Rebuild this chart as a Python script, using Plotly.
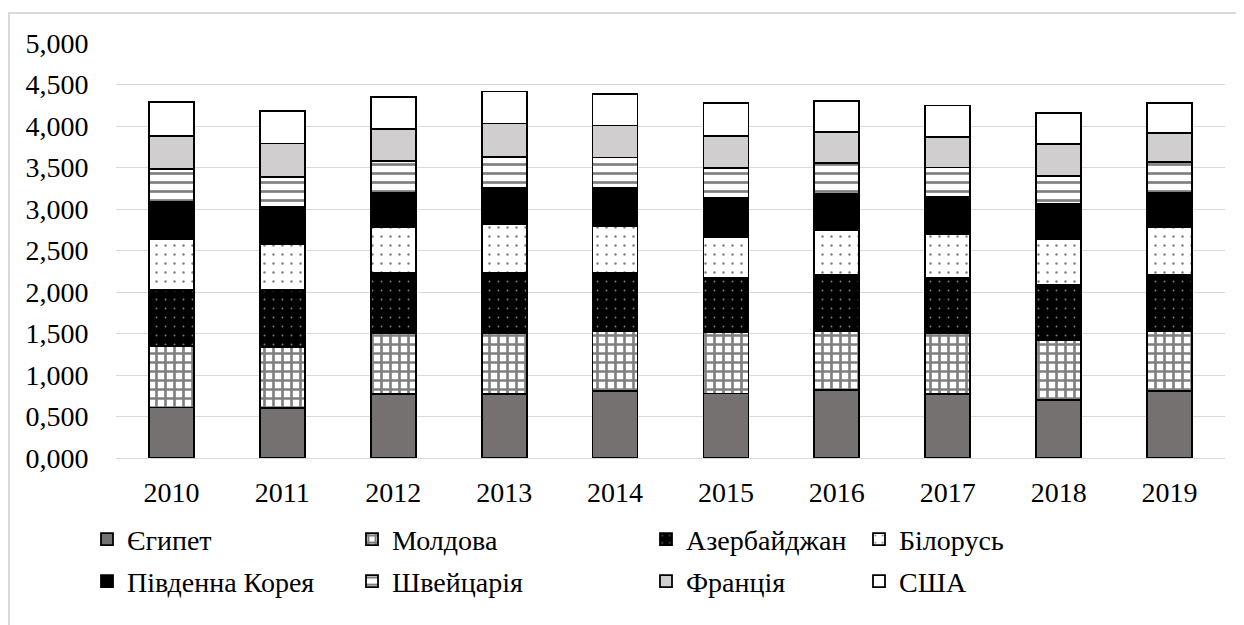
import plotly.graph_objects as go

years = ["2010", "2011", "2012", "2013", "2014", "2015", "2016", "2017", "2018", "2019"]

egypt = [0.608, 0.603, 0.768, 0.768, 0.805, 0.777, 0.817, 0.768, 0.696, 0.808]
moldova = [0.737, 0.736, 0.740, 0.740, 0.725, 0.736, 0.713, 0.732, 0.724, 0.724]
azerbaijan = [0.680, 0.684, 0.724, 0.724, 0.700, 0.651, 0.674, 0.670, 0.663, 0.672]
belarus = [0.612, 0.551, 0.555, 0.588, 0.570, 0.502, 0.543, 0.530, 0.557, 0.583]
south_korea = [0.446, 0.446, 0.413, 0.440, 0.460, 0.464, 0.433, 0.450, 0.420, 0.410]
switzerland = [0.395, 0.370, 0.380, 0.370, 0.360, 0.360, 0.370, 0.350, 0.340, 0.370]
france = [0.399, 0.400, 0.380, 0.400, 0.385, 0.390, 0.380, 0.370, 0.380, 0.353]
usa = [0.413, 0.390, 0.390, 0.385, 0.382, 0.400, 0.370, 0.376, 0.380, 0.360]

names = ["Єгипет", "Молдова", "Азербайджан", "Білорусь",
         "Південна Корея", "Швейцарія", "Франція", "США"]
series = [egypt, moldova, azerbaijan, belarus, south_korea, switzerland, france, usa]

y_ticks = [0, 0.5, 1, 1.5, 2, 2.5, 3, 3.5, 4, 4.5, 5]
y_ticktext = ["0,000", "0,500", "1,000", "1,500", "2,000", "2,500",
              "3,000", "3,500", "4,000", "4,500", "5,000"]

# styles: (bgcolor, pattern shape, fgcolor, size, solidity)
styles = [
    ("#767171", "", "#767171", 8, 0.3),
    ("#FFFFFF", "+", "#000000", 9, 0.5),
    ("#000000", ".", "#FFFFFF", 9, 0.035),
    ("#FFFFFF", ".", "#000000", 9, 0.06),
    ("#000000", "", "#000000", 8, 0.3),
    ("#FFFFFF", "-", "#000000", 9, 0.3),
    ("#D0CECE", "", "#D0CECE", 8, 0.3),
    ("#FFFFFF", "", "#FFFFFF", 8, 0.3),
]

FONT = "Liberation Serif, DejaVu Serif"
FS = 28

fig = go.Figure()
legend_names = ["legend", "legend2", "legend3", "legend4",
                "legend5", "legend6", "legend7", "legend8"]
for i, (nm, vals, st) in enumerate(zip(names, series, styles)):
    bg, shape, fg, size, sol = st
    fig.add_trace(go.Bar(
        x=years, y=vals, name=nm,
        marker=dict(
            color=bg,
            line=dict(color="#000000", width=1.8),
            pattern=dict(shape=shape, fgcolor=fg, bgcolor=bg, size=size,
                         solidity=sol, fillmode="overlay"),
        ),
        legend=legend_names[i],
    ))

# page is offset by 8px body margin; work in figure coordinates
OFF = 8
W = 1244.0
H = 625.0
plot_left, plot_right, plot_top, plot_bottom = 116 - OFF, 1225 - OFF, 43 - OFF, 457.7 - OFF
ml = plot_left
mr = W - plot_right
mt = plot_top
mb = H - plot_bottom
pw = plot_right - plot_left
ph = plot_bottom - plot_top

text_x = [127 - OFF, 392 - OFF, 686 - OFF, 899 - OFF]
row_y = [539 - OFF, 581 - OFF]
legend_layout = {}
for i, ln in enumerate(legend_names):
    col = i % 4
    row = i // 4
    px = text_x[col] - 40
    py = row_y[row]
    legend_layout[ln] = dict(
        x=(px - ml) / pw, xanchor="left",
        y=(plot_bottom - py) / ph, yanchor="middle",
        font=dict(family=FONT, size=FS, color="#000000"),
        bgcolor="rgba(0,0,0,0)", borderwidth=0,
    )

fig.update_layout(
    width=int(W), height=int(H),
    margin=dict(l=ml, r=mr, t=mt, b=mb, autoexpand=False),
    paper_bgcolor="#FFFFFF", plot_bgcolor="#FFFFFF",
    barmode="stack", bargap=0.595,
    showlegend=True,
    font=dict(family=FONT, size=FS, color="#000000"),
    **legend_layout,
)
fig.update_xaxes(
    showgrid=False, showline=False, zeroline=False,
    ticks="outside", ticklen=9, tickcolor="rgba(0,0,0,0)",
    tickfont=dict(family=FONT, size=FS, color="#000000"),
)
fig.update_yaxes(
    range=[0, 5], tickvals=y_ticks, ticktext=y_ticktext,
    showgrid=True, gridcolor="#D9D9D9", gridwidth=1.3,
    zeroline=True, zerolinecolor="#D9D9D9", zerolinewidth=1.3,
    showline=False,
    ticks="outside", ticklen=21, tickcolor="rgba(0,0,0,0)",
    tickfont=dict(family=FONT, size=FS, color="#000000"),
)

# outer chart frame
fig.add_shape(type="rect", xref="paper", yref="paper",
              x0=(8 - OFF + 1 - ml) / pw, x1=(1400 - ml) / pw,
              y0=(plot_bottom - 800) / ph, y1=(plot_bottom - (13 - OFF)) / ph,
              line=dict(color="#D9D9D9", width=2), fillcolor="rgba(0,0,0,0)",
              layer="below")

fig.write_html("out.html")
